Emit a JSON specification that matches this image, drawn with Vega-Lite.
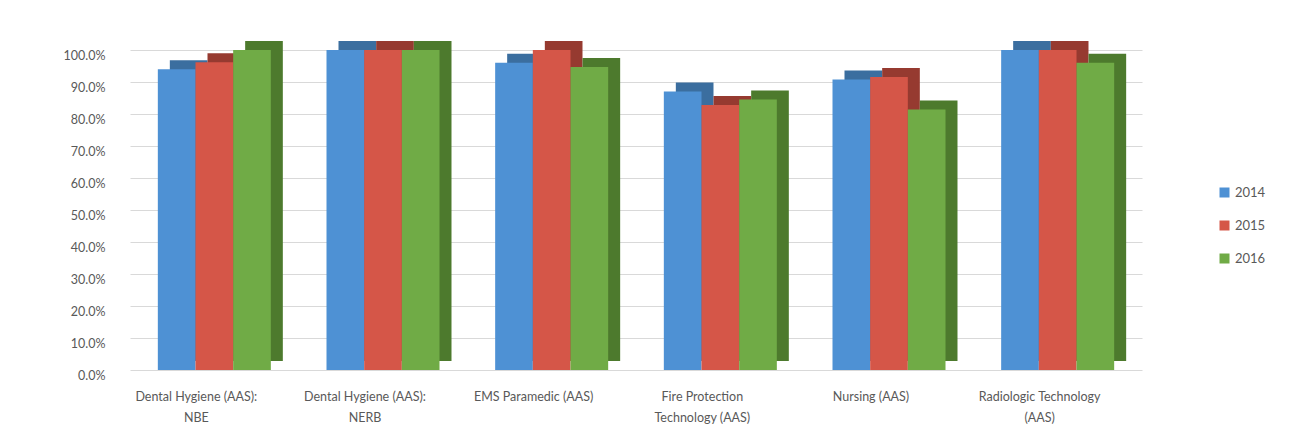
{
  "$schema": "https://vega.github.io/schema/vega-lite/v6.json",
  "width": 1012,
  "height": 320,
  "autosize": {"type": "none"},
  "padding": {"left": 130, "top": 50, "right": 154, "bottom": 74},
  "background": "white",
  "config": {"view": {"stroke": null}, "font": "Lato"},
  "data": {
    "values": [
      {"program": "Dental Hygiene (AAS): NBE", "year": "2014", "rate": 0.94},
      {"program": "Dental Hygiene (AAS): NBE", "year": "2015", "rate": 0.962},
      {"program": "Dental Hygiene (AAS): NBE", "year": "2016", "rate": 1.0},
      {"program": "Dental Hygiene (AAS): NERB", "year": "2014", "rate": 1.0},
      {"program": "Dental Hygiene (AAS): NERB", "year": "2015", "rate": 1.0},
      {"program": "Dental Hygiene (AAS): NERB", "year": "2016", "rate": 1.0},
      {"program": "EMS Paramedic (AAS)", "year": "2014", "rate": 0.96},
      {"program": "EMS Paramedic (AAS)", "year": "2015", "rate": 1.0},
      {"program": "EMS Paramedic (AAS)", "year": "2016", "rate": 0.947},
      {"program": "Fire Protection Technology (AAS)", "year": "2014", "rate": 0.87},
      {"program": "Fire Protection Technology (AAS)", "year": "2015", "rate": 0.828},
      {"program": "Fire Protection Technology (AAS)", "year": "2016", "rate": 0.845},
      {"program": "Nursing (AAS)", "year": "2014", "rate": 0.908},
      {"program": "Nursing (AAS)", "year": "2015", "rate": 0.916},
      {"program": "Nursing (AAS)", "year": "2016", "rate": 0.814},
      {"program": "Radiologic Technology (AAS)", "year": "2014", "rate": 1.0},
      {"program": "Radiologic Technology (AAS)", "year": "2015", "rate": 1.0},
      {"program": "Radiologic Technology (AAS)", "year": "2016", "rate": 0.96}
    ]
  },
  "encoding": {
    "x": {
      "field": "program",
      "type": "nominal",
      "sort": null,
      "scale": {"paddingInner": 0.33, "paddingOuter": 0.165},
      "axis": {
        "title": null,
        "domain": false,
        "ticks": false,
        "labelAngle": 0,
        "labelFontSize": 12.5,
        "labelColor": "#595959",
        "labelPadding": 20,
        "labelOffset": -18,
        "labelLineHeight": 21,
        "labelLimit": 250,
        "labelExpr": "datum.label == 'Dental Hygiene (AAS): NBE' ? ['Dental Hygiene (AAS):', 'NBE'] : datum.label == 'Dental Hygiene (AAS): NERB' ? ['Dental Hygiene (AAS):', 'NERB'] : datum.label == 'Fire Protection Technology (AAS)' ? ['Fire Protection', 'Technology (AAS)'] : datum.label == 'Radiologic Technology (AAS)' ? ['Radiologic Technology', '(AAS)'] : datum.label"
      }
    },
    "y": {
      "field": "rate",
      "type": "quantitative",
      "scale": {"domain": [0, 1], "nice": false},
      "axis": {
        "title": null,
        "domain": false,
        "ticks": false,
        "values": [0, 0.1, 0.2, 0.3, 0.4, 0.5, 0.6, 0.7, 0.8, 0.9, 1.0],
        "format": ".1%",
        "labelFontSize": 12.5,
        "labelColor": "#595959",
        "labelPadding": 25,
        "labelOffset": 5,
        "gridColor": "#d9d9d9",
        "gridWidth": 1
      }
    }
  },
  "layer": [
    {
      "mark": {"type": "bar", "yOffset": -9, "y2Offset": -9},
      "encoding": {
        "xOffset": {
          "field": "year",
          "type": "nominal",
          "sort": ["2014", "2015", "2016"],
          "scale": {"paddingInner": 0, "paddingOuter": 0, "range": [12, 125]}
        },
        "color": {
          "field": "year",
          "type": "nominal",
          "scale": {"domain": ["2014", "2015", "2016"], "range": ["#3b6e9f", "#963a30", "#4d7a2d"]},
          "legend": null
        }
      }
    },
    {
      "mark": {"type": "bar"},
      "encoding": {
        "xOffset": {
          "field": "year",
          "type": "nominal",
          "sort": ["2014", "2015", "2016"],
          "scale": {"paddingInner": 0, "paddingOuter": 0}
        },
        "color": {
          "field": "year",
          "type": "nominal",
          "scale": {"domain": ["2014", "2015", "2016"], "range": ["#4e91d4", "#d55648", "#70ab46"]},
          "legend": {
            "title": null,
            "orient": "none",
            "legendX": 1088,
            "legendY": 136,
            "symbolType": "square",
            "symbolSize": 100,
            "symbolStrokeWidth": 0,
            "labelFontSize": 13,
            "labelColor": "#595959",
            "labelOffset": 4,
            "rowPadding": 19
          }
        }
      }
    }
  ],
  "resolve": {"scale": {"color": "independent", "xOffset": "independent"}}
}
